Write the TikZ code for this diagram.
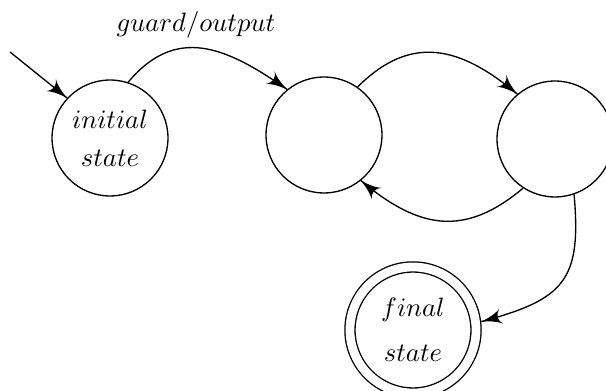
\documentclass[tikz,border=0pt]{standalone}
\usepackage{amsmath}
\usepackage{tikz}
\usetikzlibrary{arrows}
\usetikzlibrary{decorations.markings}
\tikzset{->/.style = {decoration={markings,
                                  mark=at position 0.9999 with {\arrow[scale=1.8]{latex'}}},
                      postaction={decorate}}}
\tikzset{state/.style = {draw, circle, minimum size=43.6pt, inner sep=0pt, align=center},
         final/.style = {state, minimum size=47.4pt, double, double distance=3.3pt, outer sep=2.2pt}}
\begin{document}
\begin{tikzpicture}[x=0.376pt, y=0.376pt, line width=0.5pt]
    \useasboundingbox (0, 0) rectangle (606, 391);
    \node [state] (init) at (110, 253) {$initial$\\[2.3pt]$state$};
    \node [state] (mid) at (324, 256) {};
    \node [state] (right) at (555, 252) {};
    \node [final] (end) at (413, 61) {$final$\\[5pt]$state$};
    \coordinate (start) at (10, 339);
    \node (label) at (196, 366) {$guard/output$};
    \draw [->] (start) -- (init.137);
    \draw [->] (init.72) to [out=50, in=145, looseness=1.2] (mid.129);
    \draw [->] (mid.55) to [out=45, in=140, looseness=1.2] (right.130);
    \draw [->] (right.237) to [out=220, in=-40, looseness=1.2] (mid.-51);
    \draw [->] (right.-71) to [out=-85, in=15, looseness=1.4] (end.7);
  \end{tikzpicture}
\end{document}
